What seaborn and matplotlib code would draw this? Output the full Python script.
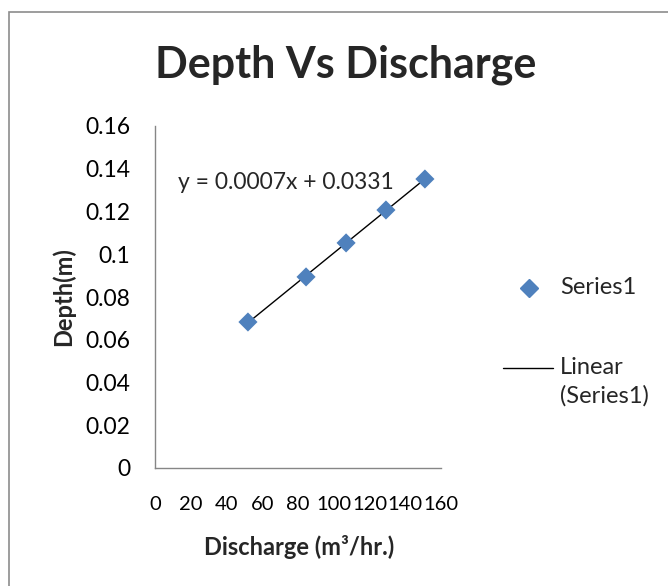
import matplotlib
matplotlib.use("Agg")
import matplotlib.pyplot as plt
import seaborn as sns
import numpy as np
import pandas as pd
from matplotlib.lines import Line2D
from matplotlib.patches import Rectangle

# Data
discharge = [52.0, 84.5, 106.9, 129.2, 151.0]
depth = [0.0683, 0.0894, 0.1053, 0.1207, 0.1352]
x_ticks = [0, 20, 40, 60, 80, 100, 120, 140, 160]
y_ticks = [0, 0.02, 0.04, 0.06, 0.08, 0.1, 0.12, 0.14, 0.16]
y_tick_labels = ["0", "0.02", "0.04", "0.06", "0.08", "0.1", "0.12", "0.14", "0.16"]
title = "Depth Vs Discharge"
xlabel = "Discharge (m³/hr.)"
ylabel = "Depth(m)"
equation = "y = 0.0007x + 0.0331"
series_name = "Series1"
trend_name = ["Linear", "(Series1)"]

sns.set_style("white")
plt.rcParams['font.family'] = ['Lato', 'DejaVu Sans']

W, H = 668, 586
fig = plt.figure(figsize=(W/100, H/100), dpi=100)
ax = fig.add_axes([155/W, 1-468/H, (441-155)/W, (468-126)/H])

df = pd.DataFrame({"Discharge": discharge, "Depth": depth})
sns.scatterplot(data=df, x="Discharge", y="Depth", marker="D", s=95,
                color="#4F81BD", edgecolor="none", ax=ax, zorder=3, legend=False)

# linear trendline
coef = np.polyfit(df["Discharge"], df["Depth"], 1)
xs = np.array([min(discharge), max(discharge)])
sns.lineplot(x=xs, y=np.polyval(coef, xs), color="black", linewidth=1.0, ax=ax, zorder=2)

ax.set_xlim(0, 160)
ax.set_ylim(0, 0.16)
ax.set_xticks(x_ticks)
ax.set_xticklabels([str(t) for t in x_ticks])
ax.set_yticks(y_ticks)
ax.set_yticklabels(y_tick_labels)
ax.tick_params(axis="both", colors="#868686", labelcolor="black",
               length=5, width=1, direction="out")
ax.tick_params(axis="x", pad=15, labelsize=14.5)
ax.tick_params(axis="y", pad=13, labelsize=16.5)
for s in ["top", "right"]:
    ax.spines[s].set_visible(False)
for s in ["left", "bottom"]:
    ax.spines[s].set_color("#868686")
    ax.spines[s].set_linewidth(1)

ax.set_xlabel("")
ax.set_ylabel("")
fig.text(299/W, 1-547/H, xlabel, fontsize=17, fontweight="bold", ha="center", va="center")
fig.text(63/W, 1-297/H, ylabel, fontsize=17, fontweight="bold", ha="center", va="center",
         rotation=90)

ax.text(12.9, 0.1338, equation, fontsize=16.5, ha="left", va="center")

fig.text(346/W, 1-65/H, title, fontsize=31, fontweight="bold", ha="center", va="center")

# legend (drawn at Excel-like positions)
fig.add_artist(Line2D([529/W], [1-288/H], marker="D", color="#4F81BD", linestyle="none",
                      markersize=9, transform=fig.transFigure))
fig.text(560/W, 1-288/H, series_name, fontsize=17, ha="left", va="center")
fig.add_artist(Line2D([503/W, 553/W], [1-368/H, 1-368/H], color="black", linewidth=1.0,
                      transform=fig.transFigure))
fig.text(560/W, 1-368/H, trend_name[0], fontsize=17, ha="left", va="center")
fig.text(560/W, 1-396/H, trend_name[1], fontsize=17, ha="left", va="center")

fig.patches.append(Rectangle((9/W, -0.2), 2.0, 1-12/H+0.2, transform=fig.transFigure,
                             fill=False, edgecolor="#8c8c8c", linewidth=1.2))

fig.savefig("out.png", dpi=100)
